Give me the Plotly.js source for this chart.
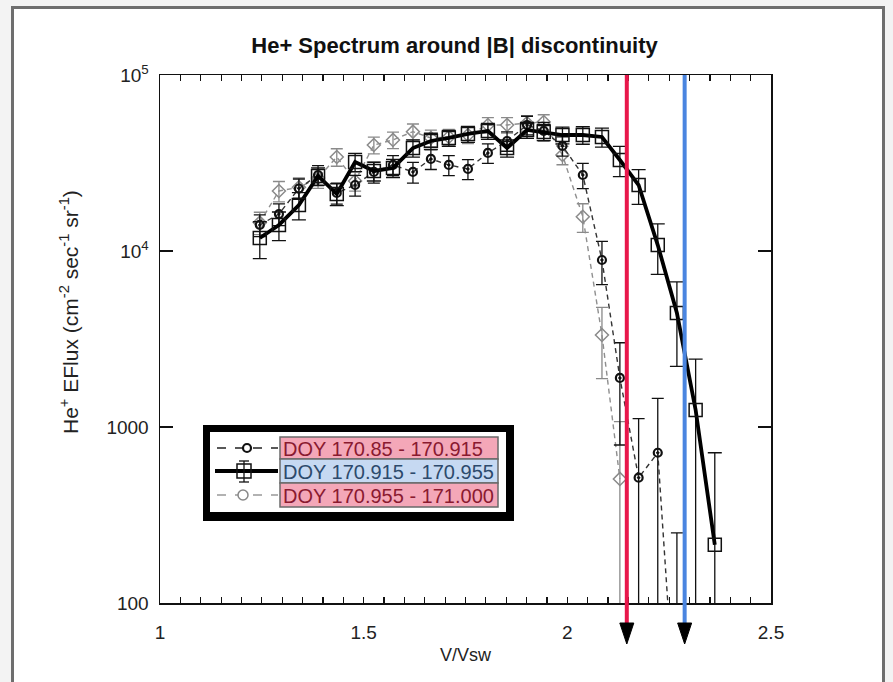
<!DOCTYPE html>
<html><head><meta charset="utf-8">
<script src="https://cdn.plot.ly/plotly-3.0.1.min.js"></script>
<style>
html,body{margin:0;padding:0;background:#f3f3f3;overflow:hidden;}
#frame{position:absolute;left:11px;top:6px;width:874px;height:700px;border:3px solid #6e6e6e;background:#fff;box-sizing:border-box;}
#chart{position:absolute;left:0;top:0;width:893px;height:682px;}
</style></head><body><div id="frame"></div><div id="chart"></div>
<script>
// ---- data ----
const vvsw  = [1.245,1.292,1.341,1.388,1.434,1.479,1.525,1.572,1.621,1.665,1.709,1.756,1.805,1.852,1.901,1.942,1.988,2.038,2.085,2.129,2.175,2.222,2.269,2.315,2.362];
// DOY 170.85 - 170.915
const flux1 = [14060,16220,22650,27030,21370,23710,28120,30830,28120,33340,30830,29250,36060,42170,52000,48070,39560,27030,8890,1900,515,714,17];
const err1  = [2000,2300,3000,3500,2900,3200,3800,4000,3800,4300,4000,3800,4600,5300,6300,5800,5000,4400,2450,1110,600,740,233];
// DOY 170.915 - 170.955
const flux2 = [11860,14060,18240,26680,21090,32060,28490,29650,38460,42170,43870,46230,48070,38460,48700,47430,45610,45610,44450,32880,23710,10810,4440,1250,214];
const err2  = [2800,2600,3200,3000,3000,3800,3500,3500,4300,4500,4600,4800,5000,4300,5000,5000,5000,5200,5500,6400,5300,3450,2230,1180,500];
// DOY 170.955 - 171.000
const flux3 = [14500,21930,23000,26000,34200,25000,40000,42770,47660,43870,44450,45610,52000,52000,53350,54050,35100,15660,3335,507];
const err3  = [2100,2900,3000,3300,3900,3100,4400,4600,5000,4700,4700,4800,5300,5300,5400,5400,4200,2900,1450,565];
const seriesNames = ['DOY 170.85 - 170.915','DOY 170.915 - 170.955','DOY 170.955 - 171.000'];
const markLines = [2.146, 2.288];        // red and blue markers on V/Vsw
const markColors = ['#e8174b','#4a85e0'];
const titleText = 'He+ Spectrum around |B| discontinuity';
const yTitleText = 'He<sup>+</sup> EFlux (cm<sup>-2</sup> sec<sup>-1</sup> sr<sup>-1</sup>)';
const xTitleText = 'V/Vsw';
const xTicks = [1,1.5,2,2.5];
const yTicks = [100,1000,10000,100000];
const yTickText = ['100','1000','10<sup>4</sup>','10<sup>5</sup>'];

// ---- layout helpers (pixel -> paper) ----
const L=160, R=771, T=75, B=603;
const px = v => (v-L)/(R-L);
const py = v => (B-v)/(B-T);
const FONT = 'Arial, "Liberation Sans", sans-serif';

const traces = [
  {x: vvsw.slice(0,flux3.length), y: flux3, type:'scatter', mode:'lines+markers',
   line:{color:'#8f8f8f', width:1.4, dash:'5px,4px'},
   marker:{symbol:'diamond-open', size:10, color:'#8a8a8a', line:{width:1.5}},
   error_y:{type:'data', array:err3, visible:true, color:'#8a8a8a', thickness:1.3, width:6}},
  {x: vvsw.slice(0,flux1.length), y: flux1, type:'scatter', mode:'lines+markers',
   line:{color:'#333', width:1.4, dash:'5px,4px'},
   marker:{symbol:'circle-open-dot', size:8, color:'#111', line:{width:2.2}},
   error_y:{type:'data', array:err1, visible:true, color:'#111', thickness:1.3, width:6}},
  {x: vvsw, y: flux2, type:'scatter', mode:'lines+markers',
   line:{color:'#000', width:3.8},
   marker:{symbol:'square-open', size:13, color:'#111', line:{width:1.5}},
   error_y:{type:'data', array:err2, visible:true, color:'#111', thickness:1.3, width:7}}
];

const shapes = [];
markLines.forEach((xv,i)=>{
  shapes.push({type:'line', xref:'x', yref:'paper', x0:xv, x1:xv, y0:py(623), y1:1,
    line:{color:markColors[i], width:4}});
  shapes.push({type:'path', xref:'x', xsizemode:'pixel', xanchor:xv, yref:'paper', ysizemode:'pixel', yanchor:0,
    path:'M-7,-20 L7,-20 L0,-41 Z', fillcolor:'#000', line:{color:'#000', width:1}});
});
// legend box
shapes.push({type:'rect', xref:'paper', yref:'paper', x0:px(203), x1:px(514), y0:py(521), y1:py(425), fillcolor:'#000', line:{width:0}});
shapes.push({type:'rect', xref:'paper', yref:'paper', x0:px(210), x1:px(506), y0:py(512), y1:py(432), fillcolor:'#fff', line:{width:0}});
const cellFill = ['#f4a7b8','#c6d9f2','#f4a7b8'];
const cellText = ['#8a1a30','#2d4a6c','#8a1a30'];
const rowTop = [437,459,483], rowBot=[459,483,507];
const annotations = [];
for (let i=0;i<3;i++){
  shapes.push({type:'rect', xref:'paper', yref:'paper', x0:px(280), x1:px(498), y0:py(rowBot[i]), y1:py(rowTop[i]),
    fillcolor:cellFill[i], line:{color:'#6a6a6a', width:1.5}});
  annotations.push({xref:'paper', yref:'paper', x:px(281), y:py((rowTop[i]+rowBot[i])/2+1), xanchor:'left', yanchor:'middle',
    showarrow:false, text:seriesNames[i], font:{family:FONT, size:20, color:cellText[i]}});
}
// y axis title, placed as in the reference
annotations.push({xref:'paper', yref:'paper', x:px(69), y:py(312), xanchor:'center', yanchor:'middle', textangle:-90,
  showarrow:false, text:yTitleText, font:{family:FONT, size:21, color:'#222'}});
// legend samples
const sy = [448,471,495];
shapes.push({type:'line', xref:'paper', yref:'paper', x0:px(217), x1:px(278), y0:py(sy[0]), y1:py(sy[0]), line:{color:'#222', width:1.5, dash:'dash'}});
shapes.push({type:'circle', xref:'paper', yref:'paper', x0:px(243), x1:px(251), y0:py(452), y1:py(444), fillcolor:'#fff', line:{color:'#111', width:2.2}});
shapes.push({type:'line', xref:'paper', yref:'paper', x0:px(215), x1:px(278), y0:py(sy[1]), y1:py(sy[1]), line:{color:'#000', width:4}});
shapes.push({type:'rect', xref:'paper', yref:'paper', x0:px(237), x1:px(251), y0:py(478), y1:py(464), line:{color:'#111', width:1.5}});
shapes.push({type:'line', xref:'paper', yref:'paper', x0:px(244), x1:px(244), y0:py(482), y1:py(461), line:{color:'#111', width:1.3}});
shapes.push({type:'line', xref:'paper', yref:'paper', x0:px(239), x1:px(249), y0:py(461), y1:py(461), line:{color:'#111', width:1.3}});
shapes.push({type:'line', xref:'paper', yref:'paper', x0:px(239), x1:px(249), y0:py(482), y1:py(482), line:{color:'#111', width:1.3}});
shapes.push({type:'line', xref:'paper', yref:'paper', x0:px(217), x1:px(278), y0:py(sy[2]), y1:py(sy[2]), line:{color:'#999', width:1.5, dash:'dash'}});
shapes.push({type:'circle', xref:'paper', yref:'paper', x0:px(238), x1:px(248), y0:py(500), y1:py(490), fillcolor:'#fff', line:{color:'#888', width:1.5}});

const layout = {
  width:893, height:682,
  paper_bgcolor:'rgba(0,0,0,0)', plot_bgcolor:'#fff',
  margin:{l:L, r:893-R, t:T, b:682-B, pad:0},
  showlegend:false,
  font:{family:FONT, size:19, color:'#222'},
  title:{text:'<b>'+titleText+'</b>', font:{family:FONT, size:22, color:'#111'}, xref:'container', x:0.509, xanchor:'center', yref:'container', y:1-45/682, yanchor:'middle'},
  xaxis:{range:[1,2.5], tickvals:xTicks, ticktext:xTicks.map(String), ticks:'inside', ticklen:6, tickwidth:1.2, tickcolor:'#111',
    showline:true, linecolor:'#111', linewidth:1.5, mirror:'ticks', showgrid:false, zeroline:false,
    minor:{tick0:1, dtick:0.05, ticks:'inside', ticklen:6, tickwidth:1.2, tickcolor:'#111', showgrid:false},
    ticklabelstandoff:12, tickfont:{size:19, color:'#222'},
    title:{text:xTitleText, font:{size:18, color:'#222'}, standoff:6}},
  yaxis:{type:'log', range:[2,5], tickvals:yTicks, ticktext:yTickText, ticks:'inside', ticklen:13, tickwidth:1.2, tickcolor:'#111',
    showline:true, linecolor:'#111', linewidth:1.5, mirror:'ticks', showgrid:false, zeroline:false,
    ticklabelstandoff:6, tickfont:{size:19, color:'#222'}},
  shapes:shapes, annotations:annotations
};
Plotly.newPlot('chart', traces, layout, {staticPlot:true});
</script></body></html>
